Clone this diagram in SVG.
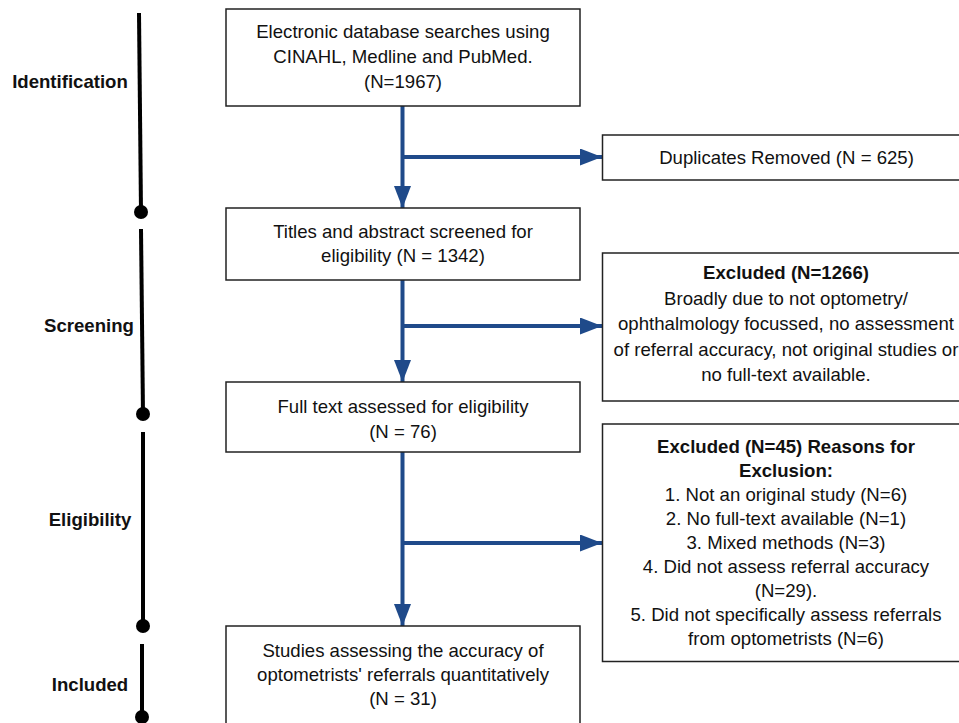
<svg xmlns="http://www.w3.org/2000/svg" width="959" height="723" viewBox="0 0 959 723">
<defs>
<style>
.box{fill:#fff;stroke:#222;stroke-width:1.5}
.t{font-family:"Liberation Sans",Arial,sans-serif;font-size:18.6px;fill:#111;text-anchor:middle}
.b{font-weight:bold}
.ph{font-family:"Liberation Sans",Arial,sans-serif;font-size:18.6px;font-weight:bold;fill:#111;text-anchor:middle}
.conn{stroke:#1F4A8A;stroke-width:4;fill:none}
.phase{stroke:#000;stroke-width:4}
</style>
<marker id="ah" markerUnits="userSpaceOnUse" markerWidth="22" markerHeight="17" refX="22" refY="8.5" orient="auto">
<path d="M0,0 L22,8.5 L0,17 z" fill="#1F4A8A"/>
</marker>
</defs>
<rect width="959" height="723" fill="#fff"/>
<g id="phases">
<line class="phase" x1="139" y1="13" x2="141" y2="212"/>
<circle cx="141" cy="212" r="7"/>
<line class="phase" x1="141" y1="229" x2="143" y2="414"/>
<circle cx="143" cy="414" r="7"/>
<line class="phase" x1="143" y1="432" x2="143" y2="626"/>
<circle cx="143" cy="626" r="7"/>
<line class="phase" x1="142" y1="644" x2="142" y2="717"/>
<circle cx="142" cy="717" r="7"/>
<text class="ph" x="70" y="88">Identification</text>
<text class="ph" x="89" y="332">Screening</text>
<text class="ph" x="90" y="526">Eligibility</text>
<text class="ph" x="90" y="691">Included</text>
</g>
<g id="connectors">
<line class="conn" x1="402.5" y1="106" x2="402.5" y2="208" marker-end="url(#ah)"/>
<line class="conn" x1="402.5" y1="157" x2="602" y2="157" marker-end="url(#ah)"/>
<line class="conn" x1="402.5" y1="280" x2="402.5" y2="382" marker-end="url(#ah)"/>
<line class="conn" x1="402.5" y1="326" x2="602" y2="326" marker-end="url(#ah)"/>
<line class="conn" x1="402.5" y1="452" x2="402.5" y2="626" marker-end="url(#ah)"/>
<line class="conn" x1="402.5" y1="543" x2="602" y2="543" marker-end="url(#ah)"/>
</g>
<g id="search">
<rect class="box" x="226" y="9" width="354" height="97"/>
<text class="t" x="403" y="37.5">Electronic database searches using</text>
<text class="t" x="403" y="62.5">CINAHL, Medline and PubMed.</text>
<text class="t" x="403" y="87.5">(N=1967)</text>
</g>
<g id="duplicates">
<rect class="box" x="602.5" y="135" width="368" height="45"/>
<text class="t" x="786.5" y="164">Duplicates Removed (N = 625)</text>
</g>
<g id="screened">
<rect class="box" x="226" y="208" width="354" height="72"/>
<text class="t" x="403" y="237.5">Titles and abstract screened for</text>
<text class="t" x="403" y="261.5">eligibility (N = 1342)</text>
</g>
<g id="excluded1">
<rect class="box" x="602.5" y="253" width="368" height="148"/>
<text class="t b" x="786" y="279">Excluded (N=1266)</text>
<text class="t" x="786" y="304.5">Broadly due to not optometry/</text>
<text class="t" x="786" y="330">ophthalmology focussed, no assessment</text>
<text class="t" x="786" y="355.5">of referral accuracy, not original studies or</text>
<text class="t" x="786" y="381">no full-text available.</text>
</g>
<g id="fulltext">
<rect class="box" x="226" y="382" width="354" height="70"/>
<text class="t" x="403" y="412.5">Full text assessed for eligibility</text>
<text class="t" x="403" y="437.5">(N = 76)</text>
</g>
<g id="excluded2">
<rect class="box" x="602.5" y="424" width="368" height="237.5"/>
<text class="t b" x="786" y="452.5">Excluded (N=45) Reasons for</text>
<text class="t b" x="786" y="476.5">Exclusion:</text>
<text class="t" x="786" y="500.5">1. Not an original study (N=6)</text>
<text class="t" x="786" y="524.5">2. No full-text available (N=1)</text>
<text class="t" x="786" y="548.5">3. Mixed methods (N=3)</text>
<text class="t" x="786" y="572.5">4. Did not assess referral accuracy</text>
<text class="t" x="786" y="596.5">(N=29).</text>
<text class="t" x="786" y="620.5">5. Did not specifically assess referrals</text>
<text class="t" x="786" y="644.5">from optometrists (N=6)</text>
</g>
<g id="included">
<rect class="box" x="226" y="626" width="354" height="110"/>
<text class="t" x="403" y="656.5">Studies assessing the accuracy of</text>
<text class="t" x="403" y="680.5">optometrists' referrals quantitatively</text>
<text class="t" x="403" y="704.5">(N = 31)</text>
</g>
</svg>
